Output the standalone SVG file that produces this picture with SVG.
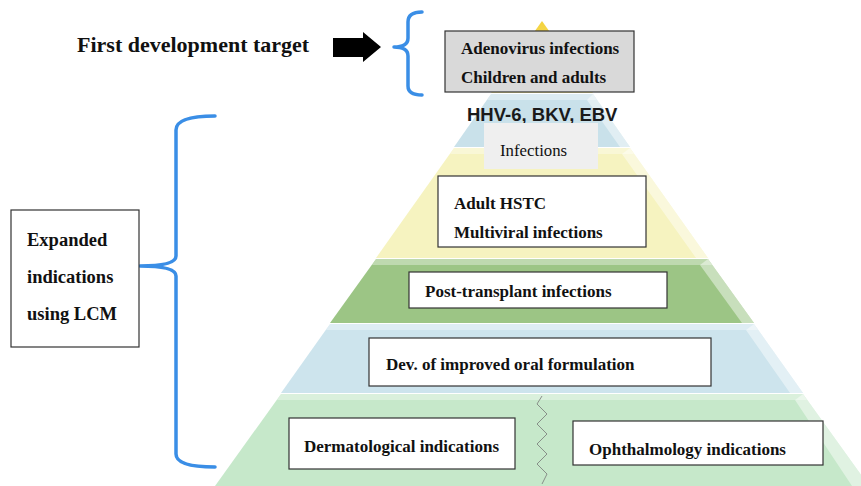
<svg xmlns="http://www.w3.org/2000/svg" width="861" height="486" viewBox="0 0 861 486">
<defs>
<style>
.t{font-family:"Liberation Serif","Times New Roman",serif;font-weight:bold;fill:#111}
.s{font-size:17px}
.e{font-size:18.5px}
.box{fill:#fff;stroke:#333;stroke-width:1.2}
.brace{fill:none;stroke:#3a8ee6;stroke-width:3.5;stroke-linecap:round;stroke-linejoin:round}
.hl{fill:#fff;opacity:0.35}
.rh{fill:#fff;opacity:0.45}
</style>
<linearGradient id="gApex" x1="0" y1="0" x2="0" y2="1"><stop offset="0" stop-color="#f4d23c"/><stop offset="1" stop-color="#f8eea0"/></linearGradient>
</defs>

<g id="pyramid">
<polygon points="542,21 593,93 491,93" fill="url(#gApex)"/>
<polygon points="491,94 593,94 630,147 454,147" fill="#c9e1ea"/>
<polygon points="454,148 630,148 708,258 376,258" fill="#f6f3c0"/>
<polygon points="376,259 708,259 754,323 330,323" fill="#9cc585"/>
<polygon points="330,324 754,324 803,393 281,393" fill="#cde4ed"/>
<polygon points="281,394 803,394 869,486 215,486" fill="#c6e8ca"/>
<polygon class="hl" points="491,94 593,94 597,100 487,100"/>
<polygon class="hl" points="454,148 630,148 634,154 450,154"/>
<polygon class="hl" points="376,259 708,259 712,265 372,265"/>
<polygon class="hl" points="330,324 754,324 758,330 326,330"/>
<polygon class="hl" points="281,394 803,394 807,400 277,400"/>
<polygon class="rh" points="593,94 630,147 620,147 587,100"/>
<polygon class="rh" points="630,148 708,258 696,258 622,154"/>
<polygon class="rh" points="708,259 754,323 742,323 700,265"/>
<polygon class="rh" points="754,324 803,393 790,393 746,330"/>
<polygon class="rh" points="803,394 869,486 852,486 795,400"/>
<polyline points="542,396 537,404 547,414 537,424 547,434 537,444 547,454 537,464 547,474 542,484" fill="none" stroke="#777" stroke-width="0.8"/>
</g>

<g id="connectors">
<path class="brace" d="M422,12 Q408,12 408,22 L408,38 Q408,47 394,47 Q408,47 408,56 L408,86 Q408,95 422,95"/>
<path class="brace" d="M215,116 Q176,116 176,130 L176,256 Q176,266 140,266 Q176,266 176,276 L176,454 Q176,467 215,467"/>
<polygon points="333,38 363,38 363,32 381,47 363,62 363,57 333,57" fill="#000"/>
</g>

<g id="first-target">
<text class="t" x="77" y="52" font-size="22">First development target</text>
</g>

<g id="adenovirus">
<rect x="445" y="31" width="189" height="61" fill="#d9d9d9" stroke="#333" stroke-width="1.2"/>
<text class="t s" x="461" y="54">Adenovirus infections</text>
<text class="t s" x="461" y="83">Children and adults</text>
</g>

<g id="hhv">
<text x="467" y="121" font-family="Liberation Sans, Arial, sans-serif" font-weight="bold" font-size="18.5" fill="#1a1a1a">HHV-6, BKV, EBV</text>
<rect x="484" y="123" width="114" height="46" fill="#efefef"/>
<text x="500" y="156" font-family="Liberation Serif, Times New Roman, serif" font-size="16.8" fill="#111">Infections</text>
</g>

<g id="adult-hstc">
<rect class="box" x="438" y="176" width="208" height="71"/>
<text class="t s" x="454" y="209">Adult HSTC</text>
<text class="t s" x="454" y="238">Multiviral infections</text>
</g>

<g id="post-transplant">
<rect class="box" x="409" y="272" width="258" height="36"/>
<text class="t s" x="425" y="297">Post-transplant infections</text>
</g>

<g id="oral">
<rect class="box" x="369" y="338" width="342" height="48"/>
<text class="t s" x="386" y="370">Dev. of improved oral formulation</text>
</g>

<g id="derm">
<rect class="box" x="289" y="418" width="226" height="51"/>
<text class="t s" x="304" y="452">Dermatological indications</text>
</g>

<g id="ophth">
<rect class="box" x="573" y="421" width="250" height="44"/>
<text class="t s" x="589" y="455">Ophthalmology indications</text>
</g>

<g id="expanded">
<rect class="box" x="11" y="210" width="128" height="137"/>
<text class="t e" x="27" y="246">Expanded</text>
<text class="t e" x="27" y="283">indications</text>
<text class="t e" x="27" y="320">using LCM</text>
</g>
</svg>
